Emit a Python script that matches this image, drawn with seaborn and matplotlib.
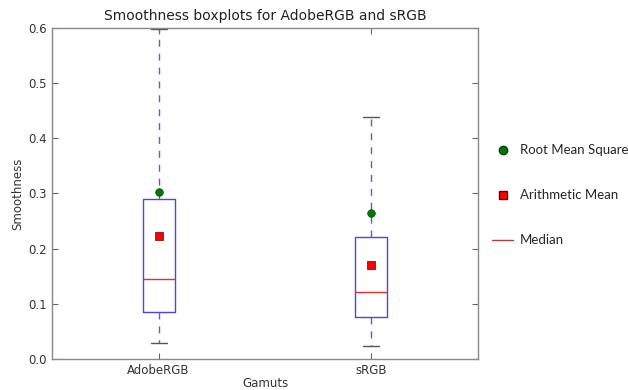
import numpy as np
import pandas as pd
import seaborn as sns
import matplotlib.pyplot as plt
from matplotlib.lines import Line2D

# --- Data ---
GAMUTS = ['AdobeRGB', 'sRGB']
WHISKER_LOW = [0.029, 0.024]
Q1 = [0.085, 0.075]
MEDIAN = [0.145, 0.121]
Q3 = [0.290, 0.221]
WHISKER_HIGH = [0.598, 0.439]
ARITH_MEAN = [0.223, 0.170]
RMS = [0.302, 0.264]

sns.set_style('ticks')
plt.rcParams['font.family'] = ['DejaVu Sans']


def build_stats():
    stats = []
    for i, name in enumerate(GAMUTS):
        stats.append({
            'label': name,
            'whislo': WHISKER_LOW[i],
            'q1': Q1[i],
            'med': MEDIAN[i],
            'q3': Q3[i],
            'whishi': WHISKER_HIGH[i],
            'fliers': [],
        })
    return stats


def main():
    fig = plt.figure(figsize=(6.28, 3.9), dpi=100)
    ax = fig.add_axes([0.083, 0.080, 0.678, 0.848])

    positions = np.arange(1, len(GAMUTS) + 1)
    ax.bxp(build_stats(), positions=positions, widths=0.15,
           boxprops=dict(color='#4646e6', linewidth=1.0),
           whiskerprops=dict(color='#5a5aee', linewidth=1.0, linestyle=(0, (5, 5))),
           capprops=dict(color='#555555', linewidth=1.0),
           medianprops=dict(color='#e03030', linewidth=1.0))

    df = pd.DataFrame({'pos': positions, 'mean': ARITH_MEAN, 'rms': RMS})
    sns.scatterplot(data=df, x='pos', y='rms', ax=ax, marker='o', s=30,
                    color='#007a00', edgecolor='#004400', linewidth=0.5, zorder=5)
    sns.scatterplot(data=df, x='pos', y='mean', ax=ax, marker='s', s=30,
                    color='#ff0000', edgecolor='#660000', linewidth=0.5, zorder=5)

    ax.set_xlim(0.5, len(GAMUTS) + 0.5)
    ax.set_ylim(0, 0.6)
    ax.set_xticks(positions)
    ax.set_xticklabels(GAMUTS)
    ax.set_yticks(np.arange(0, 0.61, 0.1))
    ax.set_yticklabels([f'{v:.1f}' for v in np.arange(0, 0.61, 0.1)])
    ax.tick_params(direction='in', top=True, right=True, length=4, pad=4,
                   labelsize=8.5, labelcolor='#333333', color='#666666')
    for sp in ax.spines.values():
        sp.set_color('#888888')
        sp.set_linewidth(1.0)

    ax.set_xlabel('Gamuts', fontsize=8.5, color='#333333', labelpad=0)
    ax.set_ylabel('Smoothness', fontsize=8.5, color='#333333', labelpad=3)
    ax.set_title('Smoothness boxplots for AdobeRGB and sRGB', fontsize=10,
                 color='#222222', pad=6)

    handles = [
        Line2D([], [], linestyle='none', marker='o', markersize=6,
               markerfacecolor='#007a00', markeredgecolor='#004400'),
        Line2D([], [], linestyle='none', marker='s', markersize=6,
               markerfacecolor='#ff0000', markeredgecolor='#660000'),
        Line2D([], [], color='#b04040', linewidth=1.0),
    ]
    labels = ['Root Mean Square', 'Arithmetic Mean', 'Median']
    fig.legend(handles, labels, loc='upper left', bbox_to_anchor=(0.765, 0.66),
               frameon=False, labelspacing=2.5, handlelength=1.6,
               handletextpad=0.5, prop={'family': 'Lato', 'size': 9.5})

    fig.savefig('out.png', dpi=100)


if __name__ == '__main__':
    main()
